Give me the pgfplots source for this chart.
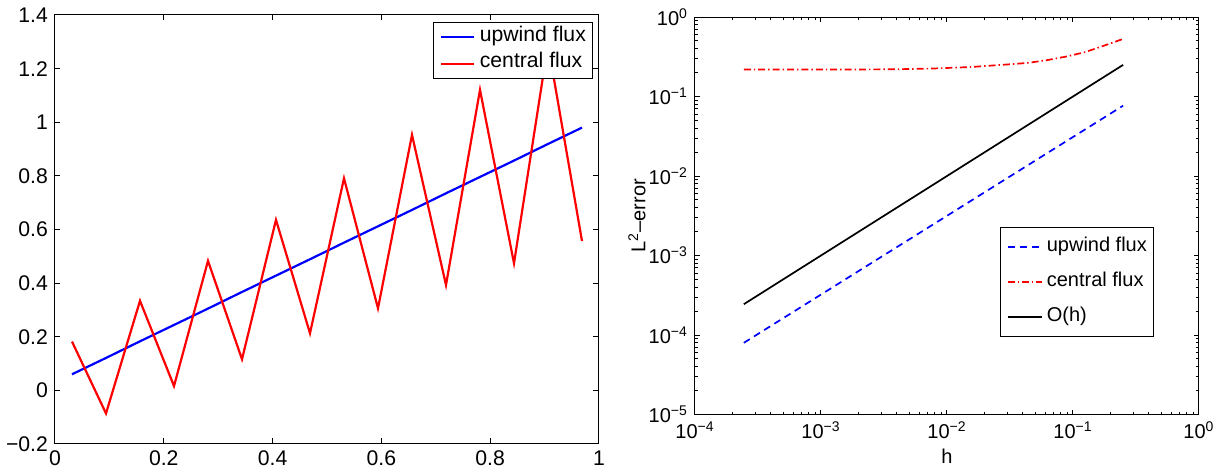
\documentclass[border=0pt]{standalone}
\usepackage{fontspec}
\setmainfont{Liberation Sans}
\usepackage{pgfplots}
\pgfplotsset{compat=1.18}
\begin{document}
\begin{tikzpicture}
\path[use as bounding box] (0,0) rectangle (611.5pt,236pt);
\begin{axis}[
  at={(27.5pt,14pt)}, anchor=south west,
  scale only axis, width=272pt, height=214.5pt,
  xmin=0, xmax=1, ymin=-0.2, ymax=1.4,
  xtick={0,0.2,0.4,0.6,0.8,1},
  xticklabels={0,0.2,0.4,0.6,0.8,1},
  ytick={-0.2,0,0.2,0.4,0.6,0.8,1,1.2,1.4},
  yticklabels={−0.2,0,0.2,0.4,0.6,0.8,1,1.2,1.4},
  tick align=inside, major tick length=2.75pt,
  tick style={black, line width=0.5pt},
  axis line style={line width=0.5pt},
  ticklabel style={font=\fontsize{10.6}{12}\selectfont},
  legend style={at={(1,1)}, anchor=north east, xshift=-3pt, yshift=-3.5pt,
    draw=black, line width=0.5pt, fill=white,
    font=\fontsize{10.6}{12}\selectfont,
    inner xsep=3.3pt, inner ysep=0.8pt, row sep=0pt, column sep=2.2pt,
    nodes={inner sep=0pt, text height=8.6pt, text depth=4.7pt}},
  legend cell align=left,
  legend image code/.code={\draw[#1] (0pt,0pt) -- (16.5pt,0pt);},
]
\addplot[blue, line width=1.1pt] coordinates {
(0.03125,0.060) (0.09375,0.121) (0.15625,0.183) (0.21875,0.244)
(0.28125,0.305) (0.34375,0.367) (0.40625,0.428) (0.46875,0.489)
(0.53125,0.551) (0.59375,0.612) (0.65625,0.673) (0.71875,0.735)
(0.78125,0.796) (0.84375,0.857) (0.90625,0.919) (0.96875,0.980)};
\addlegendentry{upwind flux\hspace{0.5pt}}
\addplot[red, line width=1.1pt] coordinates {
(0.03125,0.182) (0.09375,-0.086) (0.15625,0.334) (0.21875,0.016)
(0.28125,0.483) (0.34375,0.116) (0.40625,0.636) (0.46875,0.213)
(0.53125,0.791) (0.59375,0.306) (0.65625,0.953) (0.71875,0.393)
(0.78125,1.121) (0.84375,0.474) (0.90625,1.290) (0.96875,0.557)};
\addlegendentry{central flux}
\end{axis}

\begin{axis}[
  at={(347.5pt,28.75pt)}, anchor=south west,
  scale only axis, width=252pt, height=198.75pt,
  xmode=log, ymode=log,
  xmin=1e-4, xmax=1, ymin=1e-5, ymax=1,
  xtick={1e-4,1e-3,1e-2,1e-1,1},
  xticklabels={10\textsuperscript{−4},10\textsuperscript{−3},10\textsuperscript{−2},10\textsuperscript{−1},10\textsuperscript{0}},
  ytick={1e-5,1e-4,1e-3,1e-2,1e-1,1},
  yticklabels={10\textsuperscript{−5},10\textsuperscript{−4},10\textsuperscript{−3},10\textsuperscript{−2},10\textsuperscript{−1},10\textsuperscript{0}},
  minor xtick={2e-4,3e-4,4e-4,5e-4,6e-4,7e-4,8e-4,9e-4,
    2e-3,3e-3,4e-3,5e-3,6e-3,7e-3,8e-3,9e-3,
    2e-2,3e-2,4e-2,5e-2,6e-2,7e-2,8e-2,9e-2,
    2e-1,3e-1,4e-1,5e-1,6e-1,7e-1,8e-1,9e-1},
  minor ytick={2e-5,3e-5,4e-5,5e-5,6e-5,7e-5,8e-5,9e-5,
    2e-4,3e-4,4e-4,5e-4,6e-4,7e-4,8e-4,9e-4,
    2e-3,3e-3,4e-3,5e-3,6e-3,7e-3,8e-3,9e-3,
    2e-2,3e-2,4e-2,5e-2,6e-2,7e-2,8e-2,9e-2,
    2e-1,3e-1,4e-1,5e-1,6e-1,7e-1,8e-1,9e-1},
  tick align=inside, major tick length=2.5pt, minor tick length=1.3pt,
  tick style={black, line width=0.5pt},
  axis line style={line width=0.5pt},
  ticklabel style={font=\fontsize{10}{12}\selectfont},
  xlabel={h}, ylabel={L\textsuperscript{2}–error},
  label style={font=\fontsize{10}{12}\selectfont},
  xlabel style={at={(axis description cs:0.5,0)}, anchor=center, yshift=-21pt},
  ylabel style={at={(axis description cs:-0.115,0.5)}, anchor=center, rotate=0},
  legend style={at={(1,0)}, anchor=south east, xshift=-22.5pt, yshift=38.75pt,
    draw=black, line width=0.5pt, fill=white,
    font=\fontsize{10}{12}\selectfont,
    inner xsep=3.3pt, inner ysep=3pt, row sep=4.2pt, column sep=2pt,
    nodes={inner sep=0pt, text height=8.6pt, text depth=4.7pt}},
  legend cell align=left,
  legend image code/.code={\draw[#1] (0pt,0pt) -- (17.2pt,0pt);},
]
\addplot[blue, line width=0.85pt, dash pattern=on 3.5pt off 2.5pt] coordinates {
(0.000244140625,7.975e-5) (0.00048828125,1.585e-4) (0.0009765625,3.150e-4)
(0.001953125,6.261e-4) (0.00390625,1.244e-3) (0.0078125,2.473e-3)
(0.015625,4.916e-3) (0.03125,9.770e-3) (0.0625,1.942e-2)
(0.125,3.859e-2) (0.25,7.67e-2)};
\addlegendentry{upwind flux\hspace{6.2pt}}
\addplot[red, line width=0.85pt, dash pattern=on 3.5pt off 1.5pt on 0.7pt off 1.5pt] coordinates {
(0.000244140625,0.218) (0.00048828125,0.218) (0.0009765625,0.219)
(0.001953125,0.219) (0.00390625,0.220) (0.0078125,0.225)
(0.015625,0.235) (0.03125,0.254) (0.0442,0.265) (0.0625,0.287)
(0.0884,0.318) (0.125,0.362) (0.177,0.437) (0.25,0.530)};
\addlegendentry{central flux}
\addplot[black, line width=0.85pt] coordinates {
(0.000244140625,0.000244140625) (0.00048828125,0.00048828125) (0.0009765625,0.0009765625)
(0.001953125,0.001953125) (0.00390625,0.00390625) (0.0078125,0.0078125)
(0.015625,0.015625) (0.03125,0.03125) (0.0625,0.0625)
(0.125,0.125) (0.25,0.25)};
\addlegendentry{O(h)}
\end{axis}
\end{tikzpicture}
\end{document}
